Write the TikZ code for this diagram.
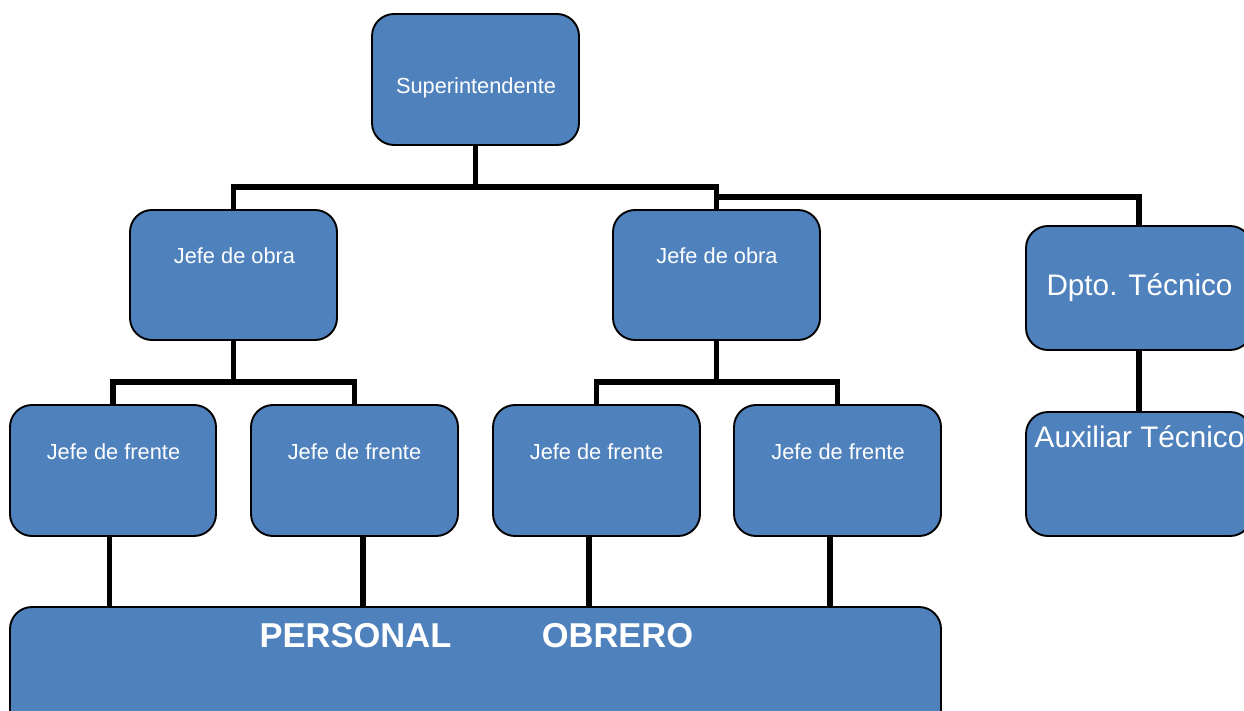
\documentclass[tikz,border=0pt]{standalone}
\usepackage{fontspec}
\setmainfont{Liberation Sans}
\definecolor{boxblue}{HTML}{4F81BD}
\begin{document}
\begin{tikzpicture}[x=1pt,y=-1pt,
  box/.style={draw=black, line width=1.9pt, fill=boxblue, rounded corners=22pt, inner sep=0pt, outer sep=0pt},
  conn/.style={draw=black, line width=5.5pt},
  lbl/.style={text=white, anchor=base, inner sep=0pt, font=\fontsize{21.8}{26}\selectfont},
  biglbl/.style={text=white, anchor=base, inner sep=0pt, font=\fontsize{29.7}{34}\selectfont},
  boldlbl/.style={text=white, anchor=base, inner sep=0pt, font=\fontsize{34.5}{40}\selectfont\bfseries}]
\clip (0,0) rectangle (1244,711);
\fill[white] (0,0) rectangle (1244,711);
% boxes
\node[box, minimum width=207pt, minimum height=131pt] (so) at (475.5,79.5) {};
\node[box, minimum width=207pt, minimum height=130pt] (jo1) at (233.5,275) {};
\node[box, minimum width=207pt, minimum height=130pt] (jo2) at (716.5,275) {};
\node[box, minimum width=226pt, minimum height=124pt] (dt) at (1139,288) {};
\node[box, minimum width=226pt, minimum height=124pt] (au) at (1139,474) {};
\node[box, minimum width=206pt, minimum height=131pt] (jf1) at (113,470.5) {};
\node[box, minimum width=207pt, minimum height=131pt] (jf2) at (354.5,470.5) {};
\node[box, minimum width=207pt, minimum height=131pt] (jf3) at (596.5,470.5) {};
\node[box, minimum width=207pt, minimum height=131pt] (jf4) at (837.5,470.5) {};
\node[box, minimum width=931pt, minimum height=133pt] (po) at (475.5,673.5) {};
% helper levels
\coordinate (h1) at (0,187);
\coordinate (h2) at (0,197);
\coordinate (h3) at (0,382);
% connectors
\draw[conn] (so.south) -- (so.south |- h1);
\draw[conn] (jo1.north) |- (jo2.north |- h1) -- (jo2.north);
\draw[conn] (jo2.north |- h2) -| (dt.north);
\draw[conn] (jo1.south) -- (jo1.south |- h3);
\draw[conn] (jf1.north) |- (jf2.north |- h3) -- (jf2.north);
\draw[conn] (jo2.south) -- (jo2.south |- h3);
\draw[conn] (jf3.north) |- (jf4.north |- h3) -- (jf4.north);
\draw[conn] (dt.south) -- (au.north);
\draw[conn] ([xshift=-3.5pt]jf1.south) -- ([xshift=-3.5pt]jf1.south |- po.north);
\draw[conn] ([xshift=8.5pt]jf2.south) -- ([xshift=8.5pt]jf2.south |- po.north);
\draw[conn] ([xshift=-7.5pt]jf3.south) -- ([xshift=-7.5pt]jf3.south |- po.north);
\draw[conn] ([xshift=-7.5pt]jf4.south) -- ([xshift=-7.5pt]jf4.south |- po.north);
% labels
\node[lbl] (tso) at (476,93.5) {Superintendente};
\node[lbl] (tjo1) at (234.5,264) {Jefe de obra};
\node[lbl] (tjo2) at (717,264) {Jefe de obra};
\node[lbl] (tjf1) at (113.5,459) {Jefe de frente};
\node[lbl] (tjf2) at (354.5,459) {Jefe de frente};
\node[lbl] (tjf3) at (596.5,459) {Jefe de frente};
\node[lbl] (tjf4) at (838,459) {Jefe de frente};
\node[biglbl] (tdt) at (1139.5,295) {Dpto. Técnico};
\node[biglbl] (tau) at (1139.5,447) {Auxiliar Técnico};
\node[boldlbl] (tpe) at (355.5,647) {PERSONAL};
\node[boldlbl] (tob) at (617.5,647) {OBRERO};
\end{tikzpicture}
\end{document}
